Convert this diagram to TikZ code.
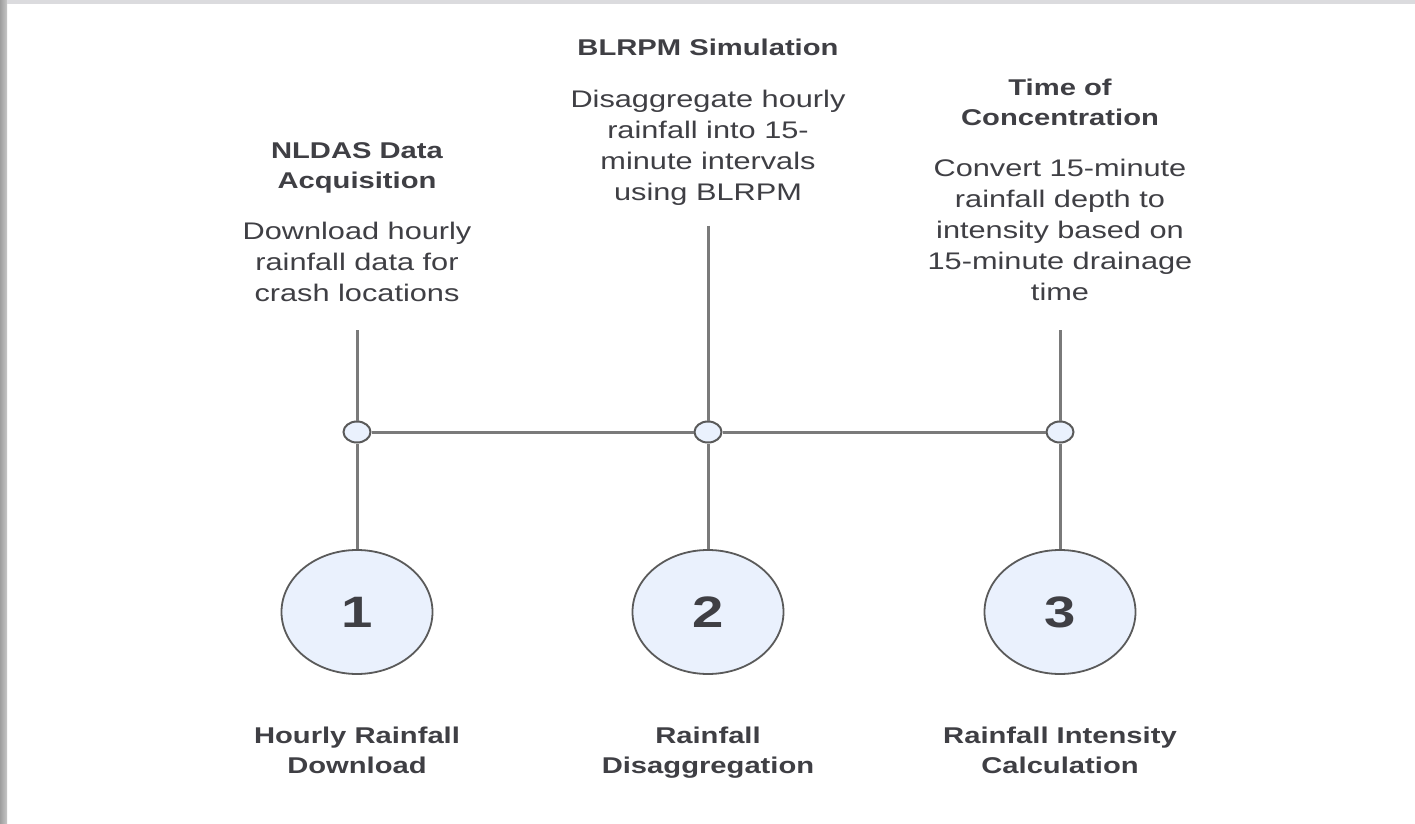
\documentclass[tikz,border=0pt]{standalone}
\usepackage{fontspec}
\setmainfont{Liberation Sans}[FakeStretch=1.28]
\usepackage{xcolor}
\usetikzlibrary{shapes.geometric,positioning}
\definecolor{inkgray}{HTML}{3F3F44}
\definecolor{linegray}{HTML}{7A7A7A}
\definecolor{rimgray}{HTML}{5A5A5A}
\definecolor{dotfill}{HTML}{EAF1FD}

\begin{document}
\begin{tikzpicture}[
  x=0.5pt, y=-0.5pt,
  head/.style={align=center, inner sep=0pt, anchor=north, text=inkgray,
               font=\fontsize{11.4}{15}\selectfont\bfseries},
  desc/.style={align=center, inner sep=0pt, anchor=north, text=inkgray,
               font=\fontsize{12}{15.5}\selectfont},
  dot/.style={ellipse, draw=rimgray, line width=1pt, fill=dotfill,
              minimum width=13.5pt, minimum height=10.5pt, inner sep=0pt},
  stepnode/.style={ellipse, draw=rimgray, line width=0.9pt, fill=dotfill,
              minimum width=75.5pt, minimum height=62pt, inner sep=0pt, text=inkgray,
              font=\fontsize{22}{26}\selectfont\bfseries},
  conn/.style={draw=linegray, line width=1.5pt}]
\useasboundingbox (0,0) rectangle (1415,824);
\fill[white] (0,0) rectangle (1415,824);
% window edges
\shade[left color=black!38, right color=black!22] (0,0) rectangle (7,824);
\fill[blue!8!black!14] (7,0) rectangle (1415,4);

% headings and descriptions
\node[head] (head1) at (357,142) {NLDAS Data\\Acquisition};
\node[desc] (desc1) at (357,222) {Download hourly\\rainfall data for\\crash locations};
\node[head] (head2) at (708,39) {BLRPM Simulation};
\node[desc] (desc2) at (708,90) {Disaggregate hourly\\rainfall into 15-\\minute intervals\\using BLRPM};
\node[head] (head3) at (1060,79) {Time of\\Concentration};
\node[desc] (desc3) at (1060,159) {Convert 15-minute\\rainfall depth to\\intensity based on\\15-minute drainage\\time};

% timeline
\coordinate (top1) at (357,330);
\coordinate (top2) at (708,226);
\coordinate (top3) at (1060,330);
\node[dot] (dot1) at (357,432) {};
\node[dot] (dot2) at (708,432) {};
\node[dot] (dot3) at (1060,432) {};
\node[stepnode] (step1) at (357,612) {1};
\node[stepnode] (step2) at (708,612) {2};
\node[stepnode] (step3) at (1060,612) {3};

\node[head] (lab1) at (357,727) {Hourly Rainfall\\Download};
\node[head] (lab2) at (708,727) {Rainfall\\Disaggregation};
\node[head] (lab3) at (1060,727) {Rainfall Intensity\\Calculation};

\draw[conn] (top1) -- (dot1);
\draw[conn] (top2) -- (dot2);
\draw[conn] (top3) -- (dot3);
\draw[conn] (dot1) -- (dot2);
\draw[conn] (dot2) -- (dot3);
\draw[conn] (dot1) -- (step1);
\draw[conn] (dot2) -- (step2);
\draw[conn] (dot3) -- (step3);
\end{tikzpicture}
\end{document}
